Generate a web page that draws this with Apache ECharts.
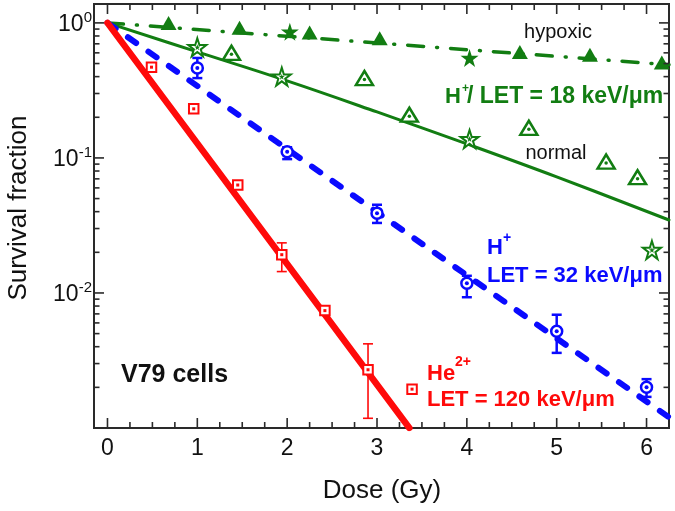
<!DOCTYPE html>
<html><head><meta charset="utf-8">
<script src="https://cdn.jsdelivr.net/npm/echarts@6/dist/echarts.min.js"></script>
<style>html,body{margin:0;padding:0;background:#fff}#c{width:675px;height:511px}</style>
</head><body><div id="c"></div>
<script>
// ---------------- data ----------------
// He2+ (LET = 120 keV/um)
const heDose = [0.49, 0.96, 1.45, 1.94, 2.42, 2.90, 3.39];
const heSF   = [0.47, 0.231, 0.063, 0.0192, 0.0074, 0.0027, 0.00194];
const heErrDose = [1.94, 2.90];
const heErrLo   = [0.0144, 0.00118];
const heErrHi   = [0.0235, 0.0042];
const heFitDose = [0, 3.36];
const heFitSF   = [1, 0.001];
// H+ (LET = 32 keV/um)
const hDose = [1, 2, 3, 4, 5, 6];
const hSF   = [0.464, 0.111, 0.039, 0.0118, 0.0052, 0.0020];
const hErrLo = [0.39, 0.098, 0.033, 0.0093, 0.0036, 0.0017];
const hErrHi = [0.55, 0.12, 0.045, 0.0134, 0.0069, 0.0023];
const hFitDose = [0, 6.25];
const hFitSF   = [1, 0.0012];
// H+ (LET = 18 keV/um) normal: open triangles & open stars
const normTriDose = [1.38, 2.86, 3.36, 4.69, 5.55, 5.90];
const normTriSF   = [0.60, 0.39, 0.209, 0.167, 0.094, 0.072];
const normStarDose = [1.00, 1.94, 4.03, 6.06];
const normStarSF   = [0.66, 0.40, 0.138, 0.0208];
const normFitDose = [0, 1, 2, 3, 4, 5, 6.25];
const normFitSF   = [1, 0.61, 0.372, 0.219, 0.127, 0.0724, 0.0347];
// H+ (LET = 18 keV/um) hypoxic: filled triangles & filled stars
const hypTriDose = [0.68, 1.47, 2.25, 3.03, 4.59, 5.37, 6.17];
const hypTriSF   = [1.0, 0.92, 0.85, 0.77, 0.61, 0.58, 0.51];
const hypStarDose = [2.03, 4.03];
const hypStarSF   = [0.86, 0.55];
const hypFitDose = [0, 6.25];
const hypFitSF   = [1, 0.49];
// axis ticks
const xMajorTicks = [0, 1, 2, 3, 4, 5, 6];
const xMinorTicks = [0.25, 0.5, 0.75, 1.25, 1.5, 1.75, 2.25, 2.5, 2.75, 3.25, 3.5, 3.75,
                     4.25, 4.5, 4.75, 5.25, 5.5, 5.75];
const yMajorTicks = [0.001, 0.01, 0.1, 1];
const yMinorTicks = [0.002, 0.003, 0.004, 0.005, 0.006, 0.007, 0.008, 0.009,
                     0.02, 0.03, 0.04, 0.05, 0.06, 0.07, 0.08, 0.09,
                     0.2, 0.3, 0.4, 0.5, 0.6, 0.7, 0.8, 0.9];

// ---------------- styles ----------------
const FONT = '"Liberation Sans", Arial, Helvetica, sans-serif';
const GREEN = '#127d12', BLUE = '#0a0aff', RED = '#ff0a0a', AX = '#2a2a2a';
const STAR = 'path://M50,2 L61.2,36.5 L97.6,36.5 L68.2,57.9 L79.4,92.5 L50,71.1 L20.6,92.5 L31.8,57.9 L2.4,36.5 L38.8,36.5 Z';

const zip = (a, b) => a.map((v, i) => [v, b[i]]);
const zip3 = (a, b, c) => a.map((v, i) => [v, b[i], c[i]]);

function tickSeries(vals, horizontal, len) {
  return {
    type: 'custom', silent: true, z: 6,
    data: vals.map(v => horizontal ? [v, 1] : [0, v]),
    renderItem: (p, api) => {
      const cs = p.coordSys;
      const pt = api.coord([api.value(0), api.value(1)]);
      const st = { stroke: AX, lineWidth: 1.6 };
      if (horizontal) {
        const b = cs.y + cs.height, t = cs.y;
        return { type: 'group', children: [
          { type: 'line', shape: { x1: pt[0], y1: b, x2: pt[0], y2: b - len }, style: st },
          { type: 'line', shape: { x1: pt[0], y1: t, x2: pt[0], y2: t + len }, style: st }
        ]};
      }
      const l = cs.x, r = cs.x + cs.width;
      return { type: 'group', children: [
        { type: 'line', shape: { x1: l, y1: pt[1], x2: l + len, y2: pt[1] }, style: st },
        { type: 'line', shape: { x1: r, y1: pt[1], x2: r - len, y2: pt[1] }, style: st }
      ]};
    }
  };
}

function errSeries(data, color, lw) {
  return {
    type: 'custom', silent: true, z: 3,
    data: data, encode: { x: 0, y: [1, 2] },
    renderItem: (p, api) => {
      const x = api.value(0);
      const lo = api.coord([x, api.value(1)]);
      const hi = api.coord([x, api.value(2)]);
      const w = 5;
      const st = { stroke: color, lineWidth: lw };
      return { type: 'group', children: [
        { type: 'line', shape: { x1: lo[0], y1: lo[1], x2: hi[0], y2: hi[1] }, style: st },
        { type: 'line', shape: { x1: lo[0] - w, y1: lo[1], x2: lo[0] + w, y2: lo[1] }, style: st },
        { type: 'line', shape: { x1: hi[0] - w, y1: hi[1], x2: hi[0] + w, y2: hi[1] }, style: st }
      ]};
    }
  };
}

function fitLine(x, y, color, width, type, smooth) {
  return {
    type: 'line', data: zip(x, y), showSymbol: false, symbol: 'none', silent: true,
    smooth: smooth || false, clip: true, z: 2,
    lineStyle: { color: color, width: width, type: type || 'solid', cap: 'round' }
  };
}

function scat(x, y, symbol, size, fill, border, bw, z, offset) {
  return {
    type: 'scatter', data: zip(x, y), symbol: symbol, symbolSize: size, silent: true, z: z || 4,
    symbolOffset: offset || [0, 0],
    itemStyle: { color: fill, borderColor: border, borderWidth: bw, opacity: 1 }
  };
}

function txt(x, y, text, size, weight, color, align) {
  return { type: 'text', x: x, y: y, z: 10,
    style: { text: text, fontSize: size, fontWeight: weight, fontFamily: FONT, fill: color,
             align: align || 'left', verticalAlign: 'middle',
             textAlign: align || 'left', textVerticalAlign: 'middle' } };
}

const chart = echarts.init(document.getElementById('c'), null, { renderer: 'canvas' });
chart.setOption({
  backgroundColor: '#fff',
  animation: false,
  grid: { left: 94, right: 6, top: 4, bottom: 83, show: true, borderColor: AX, borderWidth: 2,
          backgroundColor: 'transparent' },
  xAxis: {
    type: 'value', min: -0.15, max: 6.25, splitNumber: 6,
    axisLine: { show: false }, axisTick: { show: false }, splitLine: { show: false },
    axisLabel: { fontSize: 23, fontFamily: FONT, color: '#111', margin: 9,
      showMinLabel: true, showMaxLabel: true,
      formatter: v => (Math.abs(v - Math.round(v)) < 1e-9 ? String(Math.round(v)) : '') }
  },
  yAxis: {
    type: 'log', min: 0.001, max: 1.38, logBase: 10,
    axisLine: { show: false }, axisTick: { show: false }, splitLine: { show: false },
    axisLabel: {
      margin: 2,
      formatter: v => {
        const e = Math.log10(v), r = Math.round(e);
        if (Math.abs(e - r) > 1e-6 || r <= -3 || r > 0) return '';
        return '{n|10}{s|' + r + '}';
      },
      rich: {
        n: { fontSize: 23, fontFamily: FONT, color: '#111', verticalAlign: 'bottom' },
        s: { fontSize: 15, fontFamily: FONT, color: '#111', verticalAlign: 'bottom', padding: [0, 0, 11, 0] }
      }
    }
  },
  series: [
    fitLine(hypFitDose, hypFitSF, GREEN, 3.5, [16, 13, 1, 13]),
    fitLine(normFitDose, normFitSF, GREEN, 3, 'solid', 0.4),
    fitLine(hFitDose, hFitSF, BLUE, 6, [10, 15]),
    fitLine(heFitDose, heFitSF, RED, 6.5, 'solid'),
    errSeries(zip3(heErrDose, heErrLo, heErrHi), RED, 1.6),
    errSeries(zip3(hDose, hErrLo, hErrHi), BLUE, 2.5),
    // hypoxic filled
    scat(hypTriDose, hypTriSF, 'triangle', [16, 14], GREEN, GREEN, 0, 5),
    scat(hypStarDose, hypStarSF, STAR, 18, GREEN, GREEN, 0, 5),
    // normal open
    scat(normTriDose, normTriSF, 'triangle', [17, 14], '#fff', GREEN, 2.5, 5),
    scat(normTriDose, normTriSF, 'circle', 3.5, GREEN, GREEN, 0, 6, [0, 1.5]),
    scat(normStarDose, normStarSF, STAR, 18, '#fff', GREEN, 2, 5),
    scat(normStarDose, normStarSF, STAR, 6, GREEN, GREEN, 0, 6),
    // H+ 32
    scat(hDose, hSF, 'circle', 11, '#fff', BLUE, 2.5, 5),
    scat(hDose, hSF, 'circle', 4, BLUE, BLUE, 0, 6),
    // He2+
    scat(heDose, heSF, 'rect', 9.5, '#fff', RED, 2, 5),
    scat(heDose, heSF, 'rect', 3, RED, RED, 0, 6),
    // axis ticks (mirrored, inward)
    tickSeries(xMajorTicks, true, 10),
    tickSeries(xMinorTicks, true, 6),
    tickSeries(yMajorTicks, false, 10),
    tickSeries(yMinorTicks, false, 5.5)
  ],
  graphic: [
    { type: 'text', x: 19, y: 208, rotation: Math.PI / 2, z: 10,
      style: { text: 'Survival fraction', fontSize: 26, fontFamily: FONT, fill: '#111',
               align: 'center', verticalAlign: 'middle', textAlign: 'center', textVerticalAlign: 'middle' } },
    txt(382, 491, 'Dose (Gy)', 26, 'normal', '#111', 'center'),
    txt(558, 32, 'hypoxic', 20, 'normal', '#111', 'center'),
    txt(556, 153, 'normal', 20, 'normal', '#111', 'center'),
    txt(445, 97, 'H', 22, 'bold', GREEN),
    txt(462, 89, '+', 12, 'bold', GREEN),
    txt(467, 97, '/ LET = 18 keV/\u03bcm', 23, 'bold', GREEN),
    txt(487, 248, 'H', 22, 'bold', BLUE),
    txt(503, 238, '+', 14, 'bold', BLUE),
    txt(487, 276, 'LET = 32 keV/\u03bcm', 22, 'bold', BLUE),
    txt(427, 374, 'He', 22, 'bold', RED),
    txt(455, 362, '2+', 14, 'bold', RED),
    txt(427, 400, 'LET = 120 keV/\u03bcm', 22, 'bold', RED),
    txt(121, 375, 'V79 cells', 25, 'bold', '#111')
  ]
});
</script>
</body></html>
